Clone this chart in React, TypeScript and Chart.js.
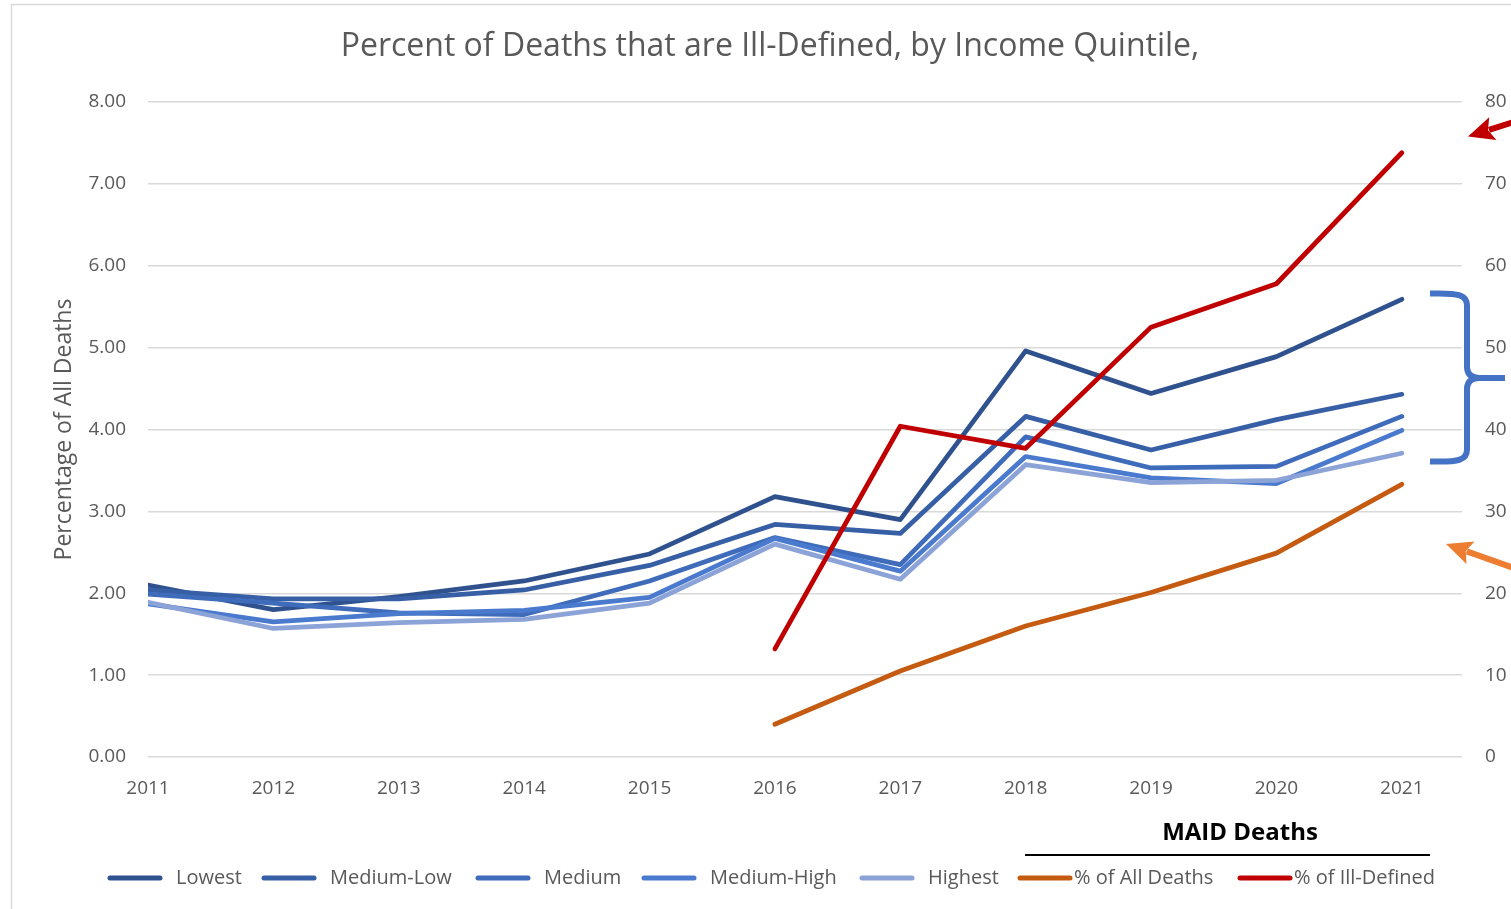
import React, { useEffect, useRef } from "react";
import { Chart, registerables } from "chart.js";

Chart.register(...registerables);

const years = [2011, 2012, 2013, 2014, 2015, 2016, 2017, 2018, 2019, 2020, 2021];

const lowest = [2.10, 1.80, 1.96, 2.15, 2.48, 3.18, 2.90, 4.96, 4.44, 4.89, 5.59];
const mediumLow = [2.04, 1.93, 1.93, 2.04, 2.34, 2.84, 2.73, 4.16, 3.75, 4.12, 4.43];
const medium = [1.99, 1.88, 1.76, 1.74, 2.15, 2.68, 2.35, 3.91, 3.53, 3.55, 4.16];
const mediumHigh = [1.87, 1.65, 1.75, 1.79, 1.95, 2.67, 2.27, 3.67, 3.41, 3.34, 3.99];
const highest = [1.89, 1.57, 1.64, 1.68, 1.88, 2.60, 2.17, 3.57, 3.35, 3.38, 3.71];

const maidAllDeaths = [null, null, null, null, null, 4.0, 10.5, 16.0, 20.1, 24.9, 33.3];
const maidIllDefined = [null, null, null, null, null, 13.2, 40.4, 37.7, 52.5, 57.8, 73.8];

const seriesLabels = ["Lowest", "Medium-Low", "Medium", "Medium-High", "Highest", "% of All Deaths", "% of Ill-Defined"];
const seriesColors = ["#2F528F", "#375FA6", "#3F6BBB", "#4A7ACD", "#8CA3D8", "#C55A11", "#C00000"];

const titleText = "Percent of Deaths that are Ill-Defined, by Income Quintile,";
const yTitleText = "Percentage of All Deaths";
const groupTitle = "MAID Deaths";

const FONT = "'Open Sans', 'Noto Sans', sans-serif";
const GREY = "#595959";

function drawArrow(ctx: CanvasRenderingContext2D, x1: number, y1: number, x2: number, y2: number, color: string) {
  const ang = Math.atan2(y2 - y1, x2 - x1);
  const headLen = 26;
  const headW = 12;
  const bx = x2 - headLen * Math.cos(ang);
  const by = y2 - headLen * Math.sin(ang);
  ctx.save();
  ctx.strokeStyle = color;
  ctx.fillStyle = color;
  ctx.lineWidth = 6;
  ctx.lineCap = "butt";
  ctx.beginPath();
  ctx.moveTo(x1, y1);
  ctx.lineTo(bx + 4 * Math.cos(ang), by + 4 * Math.sin(ang));
  ctx.stroke();
  ctx.beginPath();
  ctx.moveTo(x2, y2);
  ctx.lineTo(bx - headW * Math.sin(ang), by + headW * Math.cos(ang));
  ctx.lineTo(bx + 5 * Math.cos(ang), by + 5 * Math.sin(ang));
  ctx.lineTo(bx + headW * Math.sin(ang), by - headW * Math.cos(ang));
  ctx.closePath();
  ctx.fill();
  ctx.restore();
}

const decorPlugin = {
  id: "decor",
  beforeDraw(chart: any) {
    const ctx = chart.ctx as CanvasRenderingContext2D;
    ctx.save();
    ctx.fillStyle = "#ffffff";
    ctx.fillRect(0, 0, chart.width, chart.height);
    ctx.strokeStyle = "#D9D9D9";
    ctx.lineWidth = 1.5;
    ctx.strokeRect(11.5, 4.5, chart.width + 50, chart.height + 50);
    ctx.restore();
  },
  afterDraw(chart: any) {
    const ctx = chart.ctx as CanvasRenderingContext2D;
    const area = chart.chartArea;
    const y1 = chart.scales.y1;
    ctx.save();

    // Title
    ctx.fillStyle = GREY;
    ctx.font = `32px ${FONT}`;
    ctx.textAlign = "center";
    ctx.textBaseline = "middle";
    ctx.fillText(titleText, 770, 47);

    // Y axis title
    ctx.save();
    ctx.translate(64, (area.top + area.bottom) / 2);
    ctx.rotate(-Math.PI / 2);
    ctx.font = `23px ${FONT}`;
    ctx.fillText(yTitleText, 0, 0);
    ctx.restore();

    // Legend
    const legendX = [108, 262, 476, 642, 860, 1018, 1238];
    const ly = 878;
    chart.data.datasets.forEach((ds: any, i: number) => {
      const x0 = legendX[i];
      ctx.strokeStyle = ds.borderColor;
      ctx.lineWidth = 5;
      ctx.lineCap = "round";
      ctx.beginPath();
      ctx.moveTo(x0 + 2, ly);
      ctx.lineTo(x0 + 52, ly);
      ctx.stroke();
      ctx.fillStyle = GREY;
      ctx.font = `20px ${FONT}`;
      ctx.textAlign = "left";
      ctx.textBaseline = "middle";
      ctx.fillText(ds.label, x0 + 54 + (i >= 5 ? 2 : 14), ly);
    });

    // MAID header
    ctx.fillStyle = "#000000";
    ctx.font = `bold 24px ${FONT}`;
    ctx.textAlign = "center";
    ctx.fillText(groupTitle, 1240, 833);
    ctx.strokeStyle = "#000000";
    ctx.lineWidth = 2;
    ctx.lineCap = "butt";
    ctx.beginPath();
    ctx.moveTo(1025, 855);
    ctx.lineTo(1430, 855);
    ctx.stroke();

    // Bracket
    const top = y1.getPixelForValue(56.6);
    const mid = y1.getPixelForValue(46.3);
    const bot = y1.getPixelForValue(36.1);
    const xl = area.right - 32;
    const xv = area.right + 5;
    const xp = area.right + 43;
    ctx.strokeStyle = "#4472C4";
    ctx.lineWidth = 6;
    ctx.lineJoin = "round";
    ctx.beginPath();
    ctx.moveTo(xl, top);
    ctx.bezierCurveTo(xl + 30, top - 1, xv, top + 2, xv, top + 12);
    ctx.lineTo(xv, mid - 10);
    ctx.quadraticCurveTo(xv + 1, mid, xv + 12, mid);
    ctx.lineTo(xp, mid);
    ctx.moveTo(xv + 12, mid);
    ctx.quadraticCurveTo(xv + 1, mid, xv, mid + 10);
    ctx.lineTo(xv, bot - 12);
    ctx.bezierCurveTo(xv, bot - 2, xl + 30, bot + 1, xl, bot);
    ctx.stroke();

    // Arrows
    drawArrow(ctx, 1525, 118.5, 1468, 136.5, "#C00000");
    drawArrow(ctx, 1525, 572, 1446, 544, "#ED7D31");

    ctx.restore();
  },
};

export default function App() {
  const ref = useRef<HTMLCanvasElement | null>(null);

  useEffect(() => {
    if (!ref.current) return;
    const series = [lowest, mediumLow, medium, mediumHigh, highest, maidAllDeaths, maidIllDefined];
    const datasets = series.map((d, i) => ({
      label: seriesLabels[i],
      data: d,
      borderColor: seriesColors[i],
      backgroundColor: seriesColors[i],
      borderWidth: 4.75,
      pointRadius: 0,
      borderCapStyle: "round" as const,
      borderJoinStyle: "round" as const,
      tension: 0,
      yAxisID: i >= 5 ? "y1" : "y",
      order: series.length - i,
      spanGaps: false,
    }));

    const chart = new Chart(ref.current, {
      type: "line",
      data: { labels: years, datasets },
      plugins: [decorPlugin],
      options: {
        animation: false,
        responsive: false,
        devicePixelRatio: 1,
        layout: { padding: { top: 102, left: 0, right: 0, bottom: 102 } },
        plugins: {
          legend: { display: false },
          title: { display: false },
          tooltip: { enabled: false },
        },
        scales: {
          x: {
            type: "linear",
            min: 2011,
            max: 2021.48,
            grid: { display: false },
            border: { display: false },
            ticks: {
              stepSize: 1,
              includeBounds: false,
              autoSkip: false,
              maxRotation: 0,
              padding: 12,
              color: GREY,
              font: { family: FONT, size: 19 },
              callback: (v: any) => (Number.isInteger(v) ? String(v) : ""),
            },
            afterFit: (s: any) => {
              s.height = 50;
            },
          },
          y: {
            position: "left",
            min: 0,
            max: 8,
            grid: { color: "#D9D9D9", lineWidth: 1.5, drawTicks: false },
            border: { display: false },
            ticks: {
              stepSize: 1,
              padding: 22,
              color: GREY,
              font: { family: FONT, size: 19 },
              callback: (v: any) => Number(v).toFixed(2),
            },
            afterFit: (s: any) => {
              s.width = 148;
            },
          },
          y1: {
            position: "right",
            min: 0,
            max: 80,
            grid: { drawOnChartArea: false, drawTicks: false },
            border: { display: false },
            ticks: {
              stepSize: 10,
              padding: 23,
              color: GREY,
              font: { family: FONT, size: 19 },
            },
            afterFit: (s: any) => {
              s.width = 49;
            },
          },
        },
      },
    });
    return () => chart.destroy();
  }, []);

  return (
    <div style={{ position: "fixed", left: 0, top: 0, width: 1511, height: 909, overflow: "hidden", background: "#fff" }}>
      <canvas ref={ref} width={1511} height={909} style={{ display: "block" }} />
    </div>
  );
}
